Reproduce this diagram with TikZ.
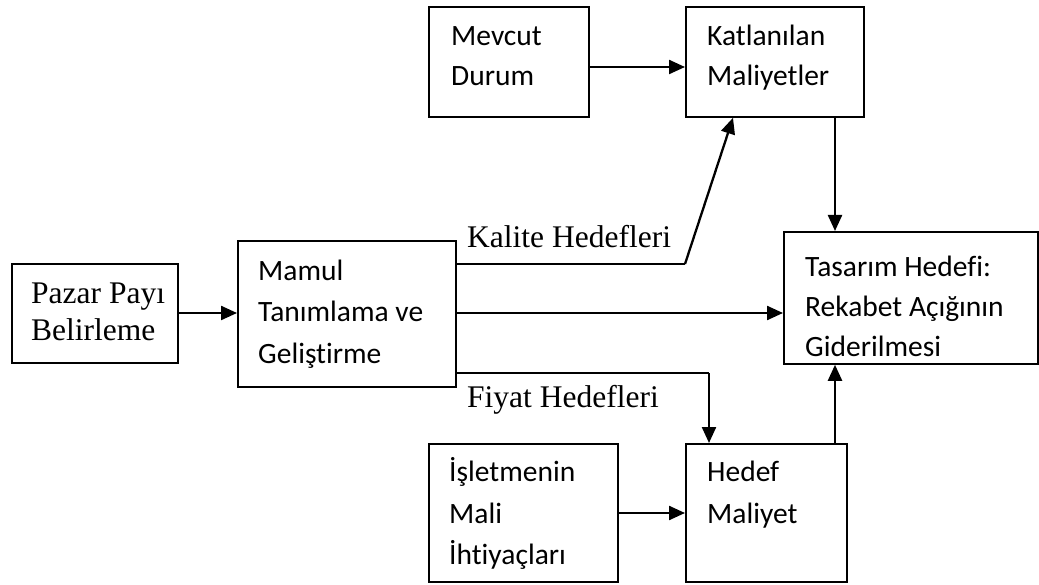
\documentclass[tikz,border=0pt]{standalone}
\usepackage{fontspec}
\setmainfont{Liberation Serif}
\newfontfamily\boxfont[Ligatures={NoCommon}]{Carlito}
\usetikzlibrary{arrows.meta}

\begin{document}
\begin{tikzpicture}[x=1pt,y=-1pt,
  box/.style={draw=black, line width=1.8pt, inner sep=0pt, anchor=north west},
  flow/.style={line width=2.3pt, -{Triangle[length=16pt,width=14pt]}},
  seg/.style={line width=2.3pt},
  sanstxt/.style={font=\boxfont\fontsize{29.5}{31}\selectfont, inner sep=0pt, anchor=base west},
  seriftxt/.style={font=\fontsize{31.5}{33}\selectfont, inner sep=0pt, anchor=base west}]

\useasboundingbox[fill=white] (0,0) rectangle (1039,585);

% boxes
\node[box, minimum width=166pt, minimum height=99pt]  (pazar)  at (11,263)  {};
\node[box, minimum width=218pt, minimum height=146pt] (mamul)  at (237,240) {};
\node[box, minimum width=160pt, minimum height=110pt] (mevcut) at (428,6)   {};
\node[box, minimum width=178pt, minimum height=110pt] (katlan) at (685,6)   {};
\node[box, minimum width=254pt, minimum height=132pt] (tasarim) at (783,231) {};
\node[box, minimum width=189pt, minimum height=138pt] (islet)  at (428,443) {};
\node[box, minimum width=161pt, minimum height=138pt] (hedef)  at (685,443) {};

% box texts
\node[seriftxt] (pazar1) at (31,304) {Pazar Payı};
\node[seriftxt] (pazar2) at (31,341) {Belirleme};

\node[sanstxt] (mamul1) at (258,281) {Mamul};
\node[sanstxt] (mamul2) at (258,322) {Tanımlama ve};
\node[sanstxt] (mamul3) at (258,363) {Geliştirme};

\node[sanstxt] (mevcut1) at (451,46) {Mevcut};
\node[sanstxt] (mevcut2) at (451,86) {Durum};

\node[sanstxt] (katlan1) at (707,46) {Katlanılan};
\node[sanstxt] (katlan2) at (707,86) {Maliyetler};

\node[sanstxt] (tasarim1) at (805,277) {Tasarım Hedefi:};
\node[sanstxt] (tasarim2) at (805,317) {Rekabet Açığının};
\node[sanstxt] (tasarim3) at (805,356) {Giderilmesi};

\node[sanstxt] (islet1) at (449,481) {İşletmenin};
\node[sanstxt] (islet2) at (449,523) {Mali};
\node[sanstxt] (islet3) at (449,564) {İhtiyaçları};

\node[sanstxt] (hedef1) at (707,481) {Hedef};
\node[sanstxt] (hedef2) at (707,523) {Maliyet};

% connector labels
\node[seriftxt] (kalite) at (467,248) {Kalite Hedefleri};
\node[seriftxt] (fiyat)  at (467,407) {Fiyat Hedefleri};

% bend points
\coordinate (kbend) at (685,264);
\coordinate (fbend) at (709,373);

% connectors
\draw[flow] (pazar.east |- 0,313) -- (mamul.west |- 0,313);
\draw[flow] (mevcut.east |- 0,67) -- (katlan.west |- 0,67);
\draw[flow] (mamul.east |- 0,313) -- (tasarim.west |- 0,313);
\draw[seg] (mamul.east |- kbend) -- (kbend);
\draw[flow] (kbend) -- (katlan.south -| 733,0);
\draw[seg] (mamul.east |- fbend) -- (fbend);
\draw[flow] (fbend) -- (hedef.north -| fbend);
\draw[flow] (katlan.south -| 835,0) -- (tasarim.north -| 835,0);
\draw[flow] (hedef.north -| 835,0) -- (tasarim.south -| 835,0);
\draw[flow] (islet.east |- 0,513) -- (hedef.west |- 0,513);

\end{tikzpicture}
\end{document}
